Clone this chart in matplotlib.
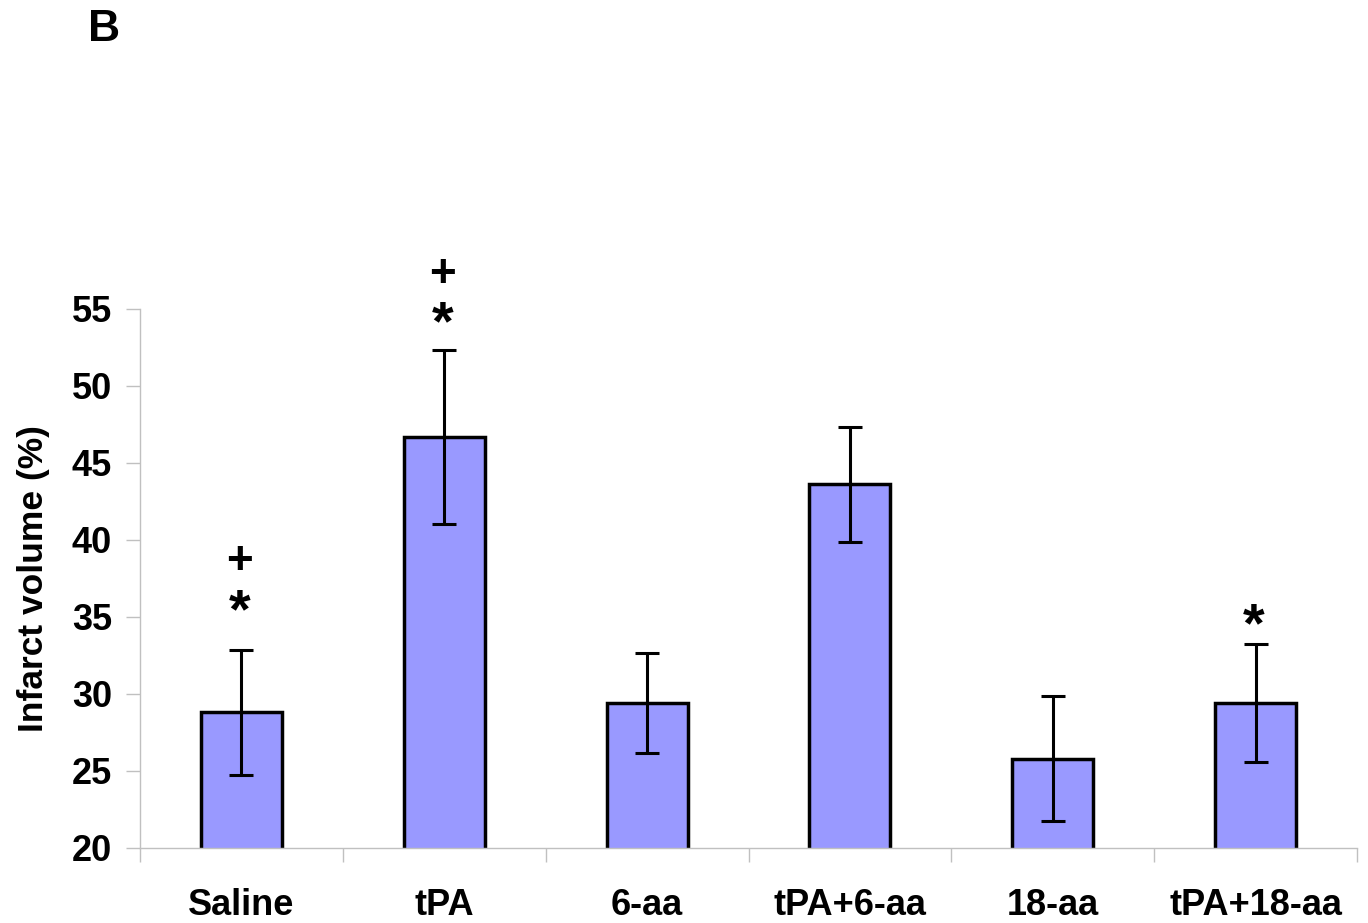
import matplotlib.pyplot as plt

groups = ["Saline", "tPA", "6-aa", "tPA+6-aa", "18-aa", "tPA+18-aa"]
means = [28.8, 46.7, 29.4, 43.6, 25.8, 29.4]
errors = [4.05, 5.65, 3.25, 3.75, 4.05, 3.85]
# significance marks: (group index, symbol, y position in data units)
marks = [(0, "+", 38.9), (0, "*", 36.0),
         (1, "+", 57.5), (1, "*", 54.7),
         (5, "*", 35.1)]

plt.rcParams["font.family"] = ["Liberation Sans", "DejaVu Sans"]
plt.rcParams["font.weight"] = "bold"

fig = plt.figure(figsize=(13.68, 9.23), dpi=100)
ax = fig.add_axes([0.1023, 0.0813, 0.8897, 0.584])

x = range(len(groups))
ax.bar(x, means, width=0.4, color="#9999FF", edgecolor="black", linewidth=2.5, zorder=2)
ax.errorbar(x, means, yerr=errors, fmt="none", ecolor="black", elinewidth=2.2,
            capsize=8.5, capthick=2.2, zorder=3)

for i, sym, yv in marks:
    if sym == "*":
        ax.text(i - 0.01, yv - 0.75, sym, ha="center", va="center",
                fontsize=40, fontweight="bold", clip_on=False)
    else:
        ax.text(i - 0.01, yv - 0.3, sym, ha="center", va="center",
                fontsize=33, fontweight="bold", clip_on=False)

ax.set_ylim(20, 55)
ax.set_xlim(-0.5, 5.5)
ax.set_yticks(range(20, 56, 5))
ax.set_xticks(list(x))
ax.set_xticklabels(groups)
ax.set_xticks([i - 0.5 for i in range(len(groups) + 1)], minor=True)
ax.tick_params(axis="x", which="major", length=0, pad=29, labelsize=26)
ax.tick_params(axis="x", which="minor", length=10, color="#c0c0c0", width=1, direction="out")
ax.tick_params(axis="y", length=10, color="#c0c0c0", width=1, labelsize=26, pad=10)

for s in ["top", "right"]:
    ax.spines[s].set_visible(False)
for s in ["left", "bottom"]:
    ax.spines[s].set_color("#c0c0c0")
    ax.spines[s].set_linewidth(1)

ax.set_ylabel("Infarct volume (%)", fontsize=25.5, fontweight="bold", labelpad=16)
fig.text(0.064, 0.968, "B", fontsize=32, fontweight="bold", va="center")

fig.savefig("out.png", dpi=100)
